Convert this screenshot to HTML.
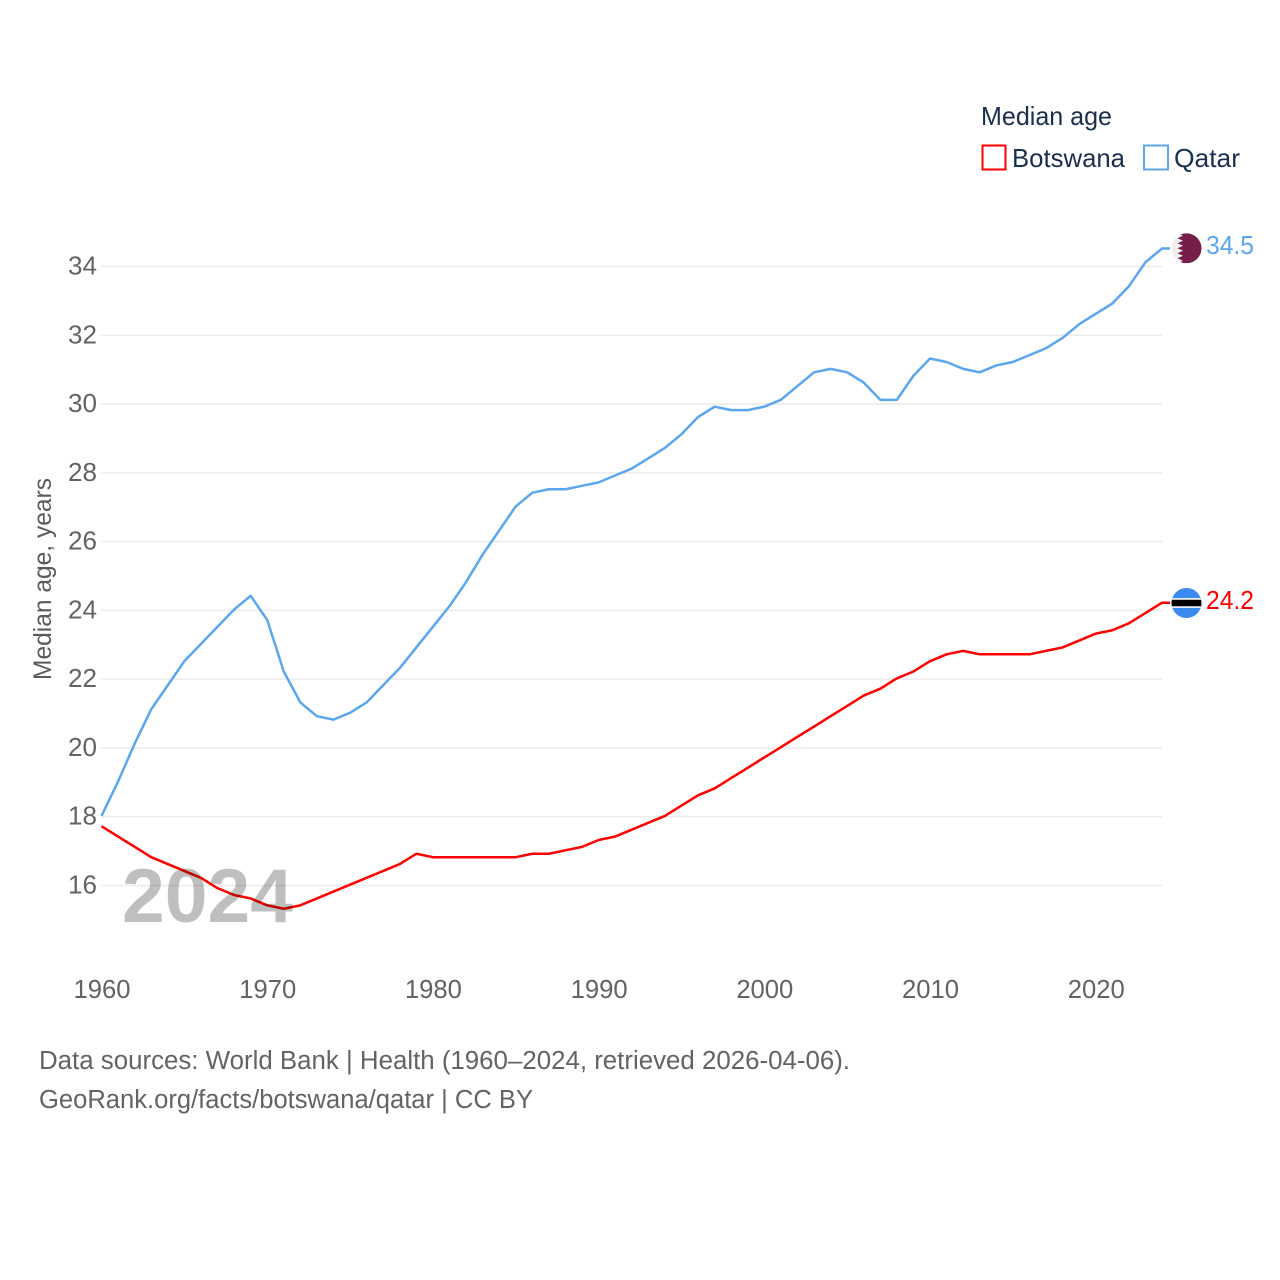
<!DOCTYPE html>
<html lang="en">
<head>
<meta charset="utf-8">
<title>Median age: Botswana and Qatar</title>
<style>
html,body{margin:0;padding:0;background:#fff;}
svg{display:block;font-family:"Liberation Sans",sans-serif;}
</style>
</head>
<body>
<svg id="chart" xmlns="http://www.w3.org/2000/svg" width="1280" height="1280" viewBox="0 0 1280 1280">
  <rect x="0" y="0" width="1280" height="1280" fill="#ffffff"/>
  <defs>
    <clipPath id="qatar-clip"><circle id="qatar-clip-circle" r="15"/></clipPath>
    <clipPath id="botswana-clip"><circle id="botswana-clip-circle" r="15"/></clipPath>
  </defs>
  <g id="grid"></g>
  <g id="y-labels"></g>
  <g id="x-labels"></g>
  <text transform="translate(51,680) rotate(-90)" font-size="25" fill="#5b5b5b" textLength="202" lengthAdjust="spacingAndGlyphs">Median age, years</text>
  <g id="series"></g>
  <text x="122" y="922" font-size="76" font-weight="700" fill="#000000" fill-opacity="0.25" textLength="171" lengthAdjust="spacingAndGlyphs">2024</text>
  <g id="end-markers"></g>

  <g>
    <text x="981" y="125" font-size="26" fill="#1a2f50" textLength="131" lengthAdjust="spacingAndGlyphs">Median age</text>
    <g>
      <rect x="982.5" y="145.5" width="23" height="24" fill="#ffffff" stroke="#ff0000" stroke-width="2"/>
      <text x="1012" y="167" font-size="26" fill="#1a2f50" textLength="113" lengthAdjust="spacingAndGlyphs">Botswana</text>
    </g>
    <g>
      <rect x="1144" y="145.5" width="24" height="24" fill="#ffffff" stroke="#5ba6ee" stroke-width="2"/>
      <text x="1174" y="167" font-size="26" fill="#1a2f50" textLength="66" lengthAdjust="spacingAndGlyphs">Qatar</text>
    </g>
  </g>

  <g>
    <text x="39" y="1069" font-size="25.5" fill="#636363" textLength="811" lengthAdjust="spacingAndGlyphs">Data sources: World Bank | Health (1960–2024, retrieved 2026-04-06).</text>
    <text x="39" y="1108" font-size="25.5" fill="#636363" textLength="494" lengthAdjust="spacingAndGlyphs">GeoRank.org/facts/botswana/qatar | CC BY</text>
  </g>
</svg>

<script>
const years = [1960,1961,1962,1963,1964,1965,1966,1967,1968,1969,1970,1971,1972,1973,1974,1975,1976,1977,1978,1979,1980,1981,1982,1983,1984,1985,1986,1987,1988,1989,1990,1991,1992,1993,1994,1995,1996,1997,1998,1999,2000,2001,2002,2003,2004,2005,2006,2007,2008,2009,2010,2011,2012,2013,2014,2015,2016,2017,2018,2019,2020,2021,2022,2023,2024];
const qatarValues = [18.0,19.0,20.1,21.1,21.8,22.5,23.0,23.5,24.0,24.4,23.7,22.2,21.3,20.9,20.8,21.0,21.3,21.8,22.3,22.9,23.5,24.1,24.8,25.6,26.3,27.0,27.4,27.5,27.5,27.6,27.7,27.9,28.1,28.4,28.7,29.1,29.6,29.9,29.8,29.8,29.9,30.1,30.5,30.9,31.0,30.9,30.6,30.1,30.1,30.8,31.3,31.2,31.0,30.9,31.1,31.2,31.4,31.6,31.9,32.3,32.6,32.9,33.4,34.1,34.5];
const botswanaValues = [17.7,17.4,17.1,16.8,16.6,16.4,16.2,15.9,15.7,15.6,15.4,15.3,15.4,15.6,15.8,16.0,16.2,16.4,16.6,16.9,16.8,16.8,16.8,16.8,16.8,16.8,16.9,16.9,17.0,17.1,17.3,17.4,17.6,17.8,18.0,18.3,18.6,18.8,19.1,19.4,19.7,20.0,20.3,20.6,20.9,21.2,21.5,21.7,22.0,22.2,22.5,22.7,22.8,22.7,22.7,22.7,22.7,22.8,22.9,23.1,23.3,23.4,23.6,23.9,24.2];
const yTickValues = [16,18,20,22,24,26,28,30,32,34];
const xTickValues = [1960,1970,1980,1990,2000,2010,2020];

const NS = 'http://www.w3.org/2000/svg';
const xScale = function (year) { return 101.5 + (year - 1960) * (1162 - 101.5) / 64; };
const yScale = function (value) { return 885.5 - (value - 16) * (885.5 - 266.5) / 18; };
const lineY = function (value) { return yScale(value) - 0.8; };

function make(tag, parent, attrs, text) {
  const el = document.createElementNS(NS, tag);
  Object.keys(attrs).forEach(function (k) { el.setAttribute(k, attrs[k]); });
  if (text !== undefined) el.textContent = text;
  parent.appendChild(el);
  return el;
}

const gridGroup = document.getElementById('grid');
const yLabelGroup = document.getElementById('y-labels');
yTickValues.forEach(function (v) {
  const y = yScale(v);
  const line = make('line', gridGroup, {x1: 101, x2: 1162, y1: y, y2: y, stroke: '#ececec', 'stroke-width': 1.5});
  
  
  const label = make('text', yLabelGroup, {x: 68, y: y + 8, 'font-size': 25.5, fill: '#636363', textLength: 29, lengthAdjust: 'spacingAndGlyphs'}, String(v));
  
  
});

const xLabelGroup = document.getElementById('x-labels');
xTickValues.forEach(function (t) {
  const label = make('text', xLabelGroup, {x: xScale(t) - 28, y: 998, 'font-size': 25.5, fill: '#636363', textLength: 57, lengthAdjust: 'spacingAndGlyphs'}, String(t));
  
  
});

function linePoints(values) {
  const pts = values.map(function (v, i) { return xScale(years[i]).toFixed(2) + ',' + lineY(v).toFixed(2); });
  pts.push('1170,' + lineY(values[values.length - 1]).toFixed(2));
  return pts.join(' ');
}

const seriesGroup = document.getElementById('series');
const qatarLine = make('polyline', seriesGroup, {points: linePoints(qatarValues), fill: 'none', stroke: '#5ba6ee', 'stroke-width': 2.5, 'stroke-linejoin': 'round'});


const botswanaLine = make('polyline', seriesGroup, {points: linePoints(botswanaValues), fill: 'none', stroke: '#ff0000', 'stroke-width': 2.5, 'stroke-linejoin': 'round'});



const markers = document.getElementById('end-markers');
const flagX = 1186.5;

/* Qatar flag */
const qatarEnd = qatarValues[qatarValues.length - 1];
const qY = yScale(qatarEnd) - 1;
const qClip = document.getElementById('qatar-clip-circle');
qClip.setAttribute('cx', flagX);
qClip.setAttribute('cy', qY);
const qatarFlag = make('g', markers, {'clip-path': 'url(#qatar-clip)'});


make('rect', qatarFlag, {x: flagX - 15, y: qY - 15, width: 30, height: 30, fill: '#efefef'});
let zig = (flagX + 15) + ',' + (qY - 15);
for (let i = 0; i < 6; i++) {
  const top = qY - 15 + i * 5;
  zig += ' ' + (flagX - 9) + ',' + top + ' ' + (flagX - 3.5) + ',' + (top + 2.5);
}
zig += ' ' + (flagX - 9) + ',' + (qY + 15) + ' ' + (flagX + 15) + ',' + (qY + 15);
make('polygon', qatarFlag, {points: zig, fill: '#761d4a'});
const qatarValueLabel = make('text', markers, {x: 1206, y: yScale(qatarEnd) + 4.5, 'font-size': 25.5, fill: '#5ba6ee', textLength: 48, lengthAdjust: 'spacingAndGlyphs'}, qatarEnd.toFixed(1));



/* Botswana flag */
const botswanaEnd = botswanaValues[botswanaValues.length - 1];
const bY = yScale(botswanaEnd) - 0.5;
const bClip = document.getElementById('botswana-clip-circle');
bClip.setAttribute('cx', flagX);
bClip.setAttribute('cy', bY);
const botswanaFlag = make('g', markers, {'clip-path': 'url(#botswana-clip)'});


make('rect', botswanaFlag, {x: flagX - 15, y: bY - 15, width: 30, height: 30, fill: '#3a8bef'});
make('rect', botswanaFlag, {x: flagX - 15, y: bY - 5, width: 30, height: 10, fill: '#e8eef5'});
make('rect', botswanaFlag, {x: flagX - 15, y: bY - 3.2, width: 30, height: 6.4, fill: '#000000'});
const botswanaValueLabel = make('text', markers, {x: 1206, y: bY + 6, 'font-size': 25.5, fill: '#ff0000', textLength: 48, lengthAdjust: 'spacingAndGlyphs'}, botswanaEnd.toFixed(1));


</script>
</body>
</html>
